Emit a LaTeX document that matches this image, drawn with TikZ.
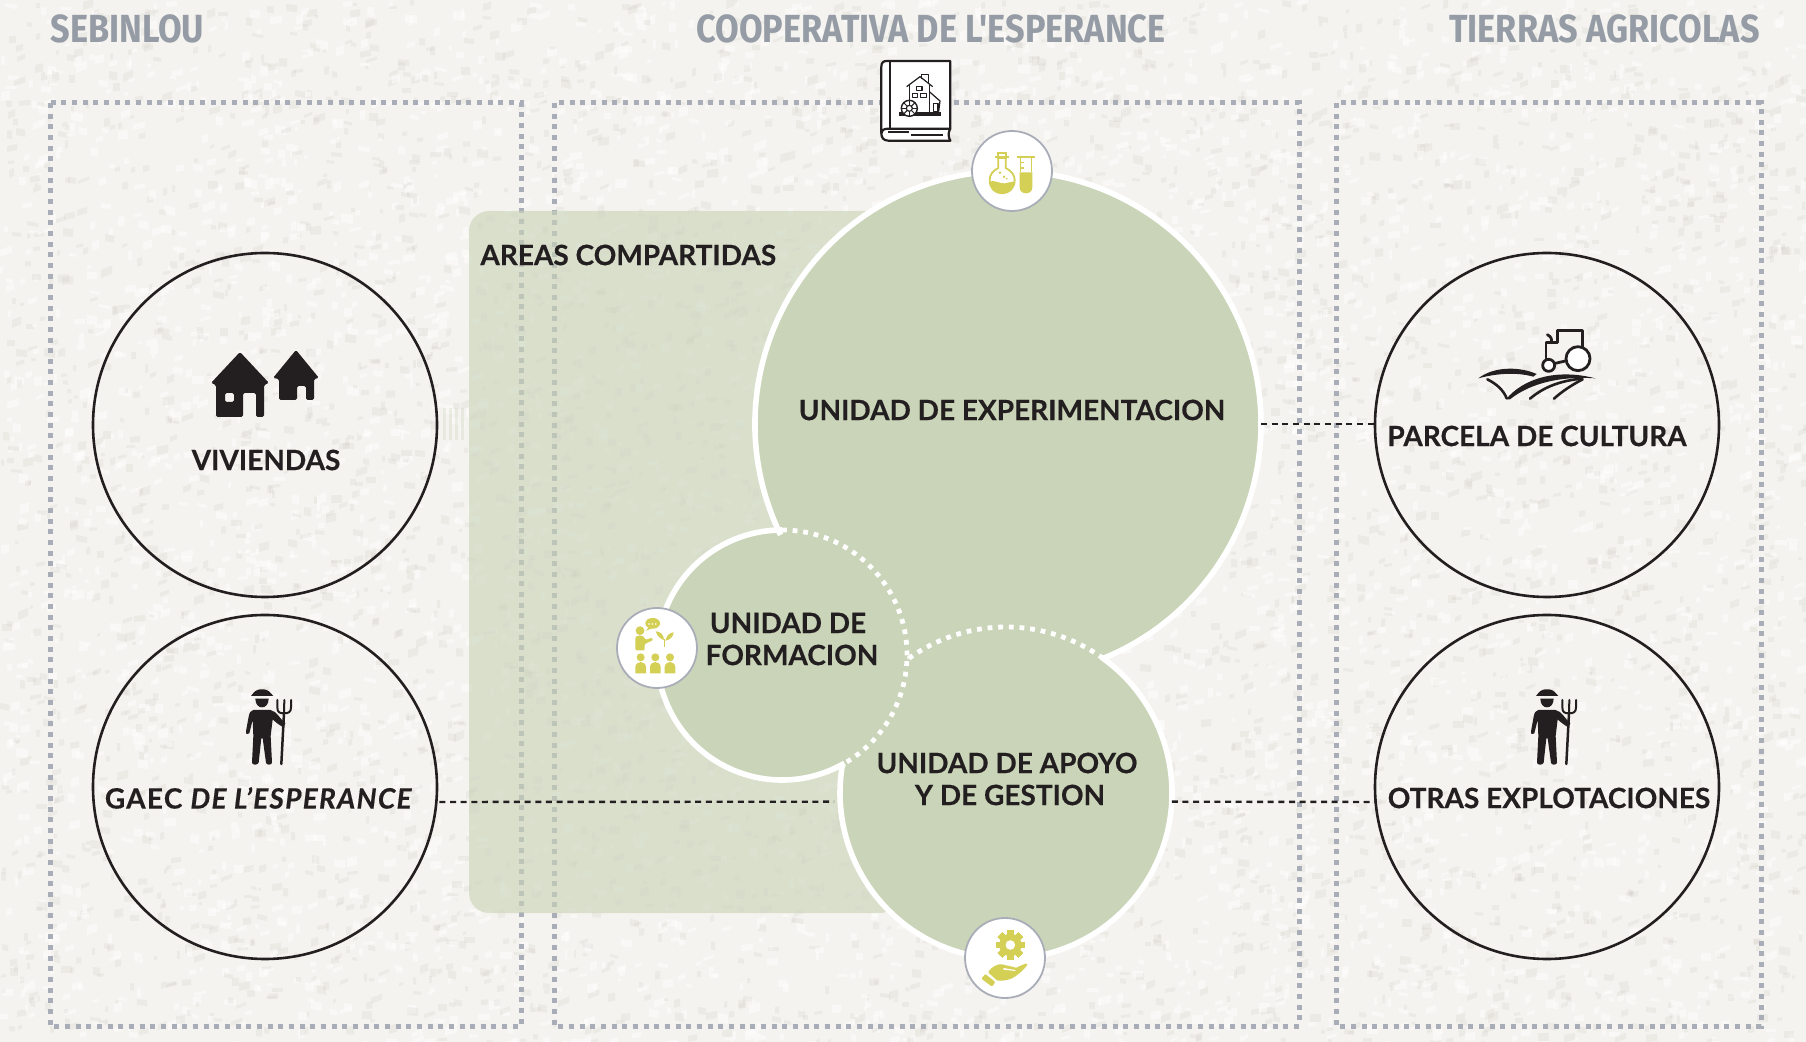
\documentclass[tikz,border=0pt]{standalone}
\usepackage{fontspec}
\setmainfont[BoldFeatures={FakeBold=0.35},BoldItalicFeatures={FakeBold=0.35}]{Lato}
\newfontfamily\hdfont[FakeStretch=0.875]{Fira Sans}
\usetikzlibrary{calc}
\definecolor{paper}{HTML}{F5F3EF}
\definecolor{speck}{HTML}{C9C6C0}
\definecolor{framecol}{HTML}{A9ADB8}
\definecolor{sage}{HTML}{CAD4B8}
\definecolor{ink}{HTML}{231F20}
\definecolor{lime}{HTML}{D4CF55}
\definecolor{headcol}{HTML}{959CA5}
\tikzset{
  x=.5pt,y=-.5pt,
  framebox/.style={draw=framecol,line width=2.5pt,dash pattern=on 2.5pt off 2.83pt},
  ringnode/.style={circle,draw=ink,line width=1.3pt,minimum size=172pt,inner sep=0,outer sep=0},
  blob/.style={circle,fill=sage,minimum size=#1,inner sep=0,outer sep=0},
  badge/.style={circle,fill=white,draw=framecol,line width=.9pt,minimum size=40pt,inner sep=0,outer sep=0},
  label/.style={font=\fontsize{14}{15}\selectfont\bfseries,text=ink,inner sep=0,align=center},
  head/.style={font=\hdfont\fontsize{19.6}{20}\selectfont\bfseries,text=headcol,inner sep=0},
  conn/.style={draw=ink,line width=1.2pt,dash pattern=on 3pt off 2.33pt},
  solidedge/.style={draw=white,line width=2.8pt},
  dotedge/.style={draw=white,line width=2.4pt,dash pattern=on 2.4pt off 2.93pt},
  zoomed/.style={shift={#1},x=.16667pt,y=-.16667pt},
}
\newcommand{\farmerfig}[1]{%
\begin{scope}[zoomed={#1},line cap=round,line join=round]
  \fill[ink] (93,78) -- (160,78) .. controls (150,68) and (148,58) .. (126,58) .. controls (104,58) and (102,68) .. (93,78) -- cycle;
  \fill[ink] (106,86) -- (146,86) .. controls (146,104) and (136,112) .. (126,112) .. controls (116,112) and (106,104) .. (106,86) -- cycle;
  \fill[ink] (100,120) -- (152,120) .. controls (170,124) and (180,146) .. (196,160) -- (190,172) .. controls (176,164) and (166,156) .. (158,148) -- (152,198) -- (156,278) .. controls (156,286) and (138,286) .. (138,278) -- (128,205) -- (124,205) -- (116,278) .. controls (114,286) and (96,286) .. (96,278) -- (100,198) -- (98,150) -- (88,190) .. controls (84,196) and (76,192) .. (78,184) -- (86,140) .. controls (88,128) and (92,122) .. (100,120) -- cycle;
  \draw[ink,line width=1.25pt] (184,282) -- (192,130);
  \draw[ink,line width=1pt] (172,90) -- (172,112) .. controls (172,128) and (180,130) .. (192,130) .. controls (206,130) and (213,126) .. (213,112) -- (213,90);
  \draw[ink,line width=1pt] (193,90) -- (192,130);
\end{scope}}
\begin{document}
\begin{tikzpicture}
\useasboundingbox (0,0) rectangle (1806,1042);
\fill[paper] (0,0) rectangle (1806,1042);
% paper grain
\pgfmathsetseed{42}
\begin{scope}
\clip (0,0) rectangle (1806,1042);
\foreach \i in {1,...,4000}{
  \pgfmathrandominteger{\gx}{0}{1806}
  \pgfmathrandominteger{\gy}{0}{1042}
  \pgfmathrandominteger{\gw}{3}{11}
  \pgfmathrandominteger{\gh}{3}{8}
  \pgfmathrandominteger{\gs}{-4}{2}
  \fill[speck,opacity=.2] (\gx,\gy) -- ++(\gw,.1*\gs*\gw) -- ++(0,\gh) -- ++(-\gw,-.1*\gs*\gw) -- cycle;
  \pgfmathrandominteger{\gx}{0}{1806}
  \pgfmathrandominteger{\gy}{0}{1042}
  \pgfmathrandominteger{\gw}{3}{12}
  \pgfmathrandominteger{\gh}{3}{9}
  \pgfmathrandominteger{\gs}{-4}{2}
  \fill[white,opacity=.45] (\gx,\gy) -- ++(\gw,.1*\gs*\gw) -- ++(0,\gh) -- ++(-\gw,-.1*\gs*\gw) -- cycle;
}
\end{scope}

% dotted territory frames
\draw[framebox] (50,103) rectangle (521,1026);
\draw[framebox] (554,103) rectangle (1299,1026);
\draw[framebox] (1336,103) rectangle (1761,1026);

% shared area
\fill[sage,opacity=.62,rounded corners=10pt] (469,211) rectangle (900,913);
\foreach \sx in {443,449,455,461}{\fill[sage,opacity=.3] (\sx,408) rectangle ++(3,32);}

% outer circles
\node[ringnode] (viviendas) at (265,425) {};
\node[ringnode] (gaec) at (265,787) {};
\node[ringnode] (parcela) at (1547,425) {};
\node[ringnode] (otras) at (1547,787) {};

% unit circles
\node[blob=253pt] (experim) at (1008,424) {};
\node[blob=166pt] (apoyo) at (1006,793) {};
\node[blob=125pt] (formacion) at (782,655) {};
\draw[solidedge] (experim.center) ++(206:126.5pt) arc[start angle=206,end angle=-68,radius=126.5pt];
\draw[solidedge] (apoyo.center) ++(54.8:83pt) arc[start angle=54.8,end angle=-190,radius=83pt];
\draw[solidedge] (formacion.center) ++(-60:62.5pt) arc[start angle=-60,end angle=-270,radius=62.5pt];
\draw[dotedge] (apoyo.center) ++(125.8:83pt) arc[start angle=125.8,end angle=54.8,radius=83pt];
\draw[dotedge] (formacion.center) ++(90:62.5pt) arc[start angle=90,end angle=-60,radius=62.5pt];

% connectors
\draw[conn,shorten >=3pt,shorten <=1.5pt] (gaec.-5) -- (apoyo.183.1);
\draw[conn] (apoyo.-3.1) -- (otras.185);
\draw[conn] (experim.east) -- (parcela.west|-experim.east);

% headings
\node[head,anchor=west] (h1) at (50,28.5) {SEBINLOU};
\node[head] (h2) at (931,28.5) {COOPERATIVA DE L'ESPERANCE};
\node[head,anchor=east] (h3) at (1760,28.5) {TIERRAS AGRICOLAS};

% labels
\node[label] (t1) at (266,460) {VIVIENDAS};
\node[label] (t2) at (259,798) {\addfontfeature{LetterSpace=4.5}GAEC \textit{DE L’ESPERANCE}};
\node[label] (t3) at (1537,436) {PARCELA DE CULTURA};
\node[label] (t4) at (1549,798) {OTRAS EXPLOTACIONES};
\node[label,anchor=west] (t5) at (480,255) {AREAS COMPARTIDAS};
\node[label] (t6) at (1012,410) {UNIDAD DE EXPERIMENTACION};
\node[label] (t7a) at (788,623) {UNIDAD DE};
\node[label] (t7b) at (792,655) {FORMACION};
\node[label] (t8a) at (1007,763) {UNIDAD DE APOYO};
\node[label] (t8b) at (1010,795) {Y DE GESTION};

% houses icon
\begin{scope}[rounded corners=.8pt]
\fill[ink,even odd rule] (240,352) -- (269,383) -- (264,385) -- (264,417) -- (256,417) -- (256,393) -- (243,393) -- (243,417) -- (216,417) -- (216,385) -- (211,383) -- cycle
  (225,393) rectangle (234,402);
\fill[ink] (296,350) -- (319,378) -- (314,379) -- (314,400) -- (306,400) -- (306,386) -- (297,386) -- (297,400) -- (279,400) -- (279,379) -- (273,378) -- cycle;
\end{scope}

% farmers
\farmerfig{(220,670)}
\farmerfig{(1505,670)}

% tractor and fields
\begin{scope}[zoomed={(1450,310)},line cap=round,line join=round]
  \draw[ink,line width=1.4pt] (292,74) .. controls (304,80) and (306,88) .. (304,98);
  \draw[ink,line width=1.4pt] (288,150) -- (288,98) -- (322,98) -- (322,62) -- (398,62) -- (398,112);
  \draw[ink,line width=1.4pt] (316,160) -- (350,152);
  \draw[ink,line width=1.4pt,fill=white] (384,146) circle[radius=6pt];
  \draw[ink,line width=1.4pt,fill=white] (296,166) circle[radius=3pt];
  \fill[ink] (85,205) .. controls (130,170) and (205,168) .. (260,192) -- (250,200) .. controls (200,186) and (140,190) .. (85,205) -- cycle;
  \draw[ink,line width=1.3pt] (112,208) .. controls (140,222) and (160,240) .. (170,265);
  \fill[ink] (168,268) .. controls (220,205) and (320,175) .. (436,205) .. controls (330,198) and (240,220) .. (180,268) -- cycle;
  \draw[ink,line width=1.3pt] (240,266) .. controls (280,232) and (330,212) .. (395,206);
  \draw[ink,line width=1.3pt] (312,266) .. controls (335,245) and (365,225) .. (398,208);
\end{scope}

% book icon
\begin{scope}[zoomed={(840,40)},line join=round,line cap=butt]
  \fill[white] (124,80) .. controls (124,68) and (130,63) .. (140,63) -- (331,63) -- (331,266) -- (320,280) -- (331,302) -- (145,302) .. controls (130,302) and (124,292) .. (124,280) -- cycle;
  \draw[ink,line width=1.1pt] (331,266) -- (331,63) -- (140,63) .. controls (130,63) and (124,68) .. (124,80) -- (124,280) .. controls (124,292) and (130,302) .. (145,302) -- (331,302) .. controls (324,290) and (324,278) .. (331,266) -- (145,266) .. controls (130,266) and (124,272) .. (124,280);
  \draw[ink,line width=1.1pt] (150,63) -- (150,266);
  \draw[ink,line width=1.1pt] (145,277) -- (207,277);
  \draw[ink,line width=1.1pt] (213,286) -- (308,286);
  % mill
  \draw[ink,line width=.6pt] (200,140) -- (240,110) -- (278,140);
  \draw[ink,line width=.6pt] (245,116) -- (245,103) -- (265,103) -- (265,128);
  \draw[ink,line width=.6pt] (208,134) -- (208,185);
  \draw[ink,line width=.6pt] (268,135) -- (268,215);
  \draw[ink,line width=.6pt] (268,155) -- (300,183) -- (296,215);
  \draw[ink,line width=.6pt] (230,140) rectangle (246,151);
  \draw[ink,line width=.6pt] (218,160) rectangle (233,172);
  \draw[ink,line width=.6pt] (241,160) rectangle (259,172);
  \draw[ink,line width=.6pt] (280,190) rectangle (294,215);
  \fill[ink] (178,217) rectangle (302,227);
  \draw[ink,line width=.7pt,fill=white] (208,205) circle[radius=4pt];
  \draw[ink,line width=.6pt,fill=white] (208,205) circle[radius=1.5pt];
  \foreach \a in {0,45,...,315}{\draw[ink,line width=.5pt] (208,205) ++(\a:1.5pt) -- ++(\a:2.5pt);}
\end{scope}

% flask badge
\node[badge] (flaskbadge) at (1012,171) {};
\begin{scope}[zoomed={(840,40)},line cap=butt]
  \draw[lime,line width=.9pt] (475,355) rectangle (497,338);
  \draw[lime,line width=.9pt] (466,352) -- (507,352);
  \draw[lime,line width=.9pt] (475,355) -- (475,384) .. controls (458,392) and (449,405) .. (449,420) .. controls (449,445) and (465,460) .. (486,460) .. controls (507,460) and (524,445) .. (524,420) .. controls (524,405) and (514,392) .. (497,384) -- (497,355);
  \fill[lime] (449,424) .. controls (465,420) and (480,432) .. (495,430) .. controls (505,429) and (515,424) .. (524,424) .. controls (522,445) and (507,460) .. (486,460) .. controls (465,460) and (450,445) .. (449,424) -- cycle;
  \fill[lime] (480,398) circle[radius=.7pt] (492,410) circle[radius=.7pt] (500,416) circle[radius=.5pt];
  \draw[lime,line width=.9pt] (532,351) -- (584,351);
  \draw[lime,line width=.8pt] (541,351) -- (541,396) (575,351) -- (575,396);
  \draw[lime,line width=.6pt] (541,367) -- (552,367) (541,384) -- (552,384);
  \fill[lime] (539,397) -- (577,397) -- (577,442) .. controls (577,466) and (539,466) .. (539,442) -- cycle;
\end{scope}

% formation badge
\node[badge] (formbadge) at (657,648) {};
\begin{scope}[zoomed={(600,590)}]
  \fill[lime] (158,100) ellipse[x radius=3.7pt,y radius=2.7pt];
  \fill[lime] (146,112) -- (138,122) -- (156,115) -- cycle;
  \fill[white] (147,102) circle[radius=.45pt] (157,102) circle[radius=.45pt] (167,102) circle[radius=.45pt];
  \fill[lime] (120,122) circle[radius=2.2pt];
  \fill[lime,rounded corners=.6pt] (106,181) -- (106,148) .. controls (106,140) and (112,137) .. (120,137) .. controls (128,137) and (134,142) .. (136,150) -- (156,143) -- (160,150) -- (134,162) -- (134,181) -- cycle;
  \fill[lime] (192,150) .. controls (182,148) and (172,138) .. (167,124) .. controls (180,124) and (192,134) .. (192,150) -- cycle;
  \fill[lime] (196,152) .. controls (200,135) and (210,128) .. (221,127) .. controls (220,140) and (210,150) .. (196,152) -- cycle;
  \draw[lime,line width=.5pt] (192,148) -- (192,172);
  \foreach \lx in {122,166,210}{
    \fill[lime] (\lx,202) circle[radius=2pt];
    \fill[lime] (\lx-16,250) -- (\lx-16,232) .. controls (\lx-16,222) and (\lx-8,216) .. (\lx,216) .. controls (\lx+8,216) and (\lx+16,222) .. (\lx+16,232) -- (\lx+16,250) -- cycle;
  }
\end{scope}

% gear and hand badge
\node[badge] (gearbadge) at (1005,958) {};
\begin{scope}[zoomed={(940,900)}]
  \foreach \a in {0,45,...,315}{
    \fill[lime,rotate around={\a:(211,135)}] (201,91) rectangle (221,179);
  }
  \fill[lime] (211,135) circle[radius=5.6pt];
  \fill[white] (211,135) circle[radius=2.4pt];
  \fill[lime,rounded corners=.5pt] (124,236) -- (136,222) -- (166,246) -- (156,260) -- cycle;
  \fill[lime,rounded corners=.5pt] (144,217) .. controls (155,200) and (175,190) .. (190,194) .. controls (205,198) and (220,200) .. (227,204) .. controls (240,198) and (252,192) .. (262,190) .. controls (262,198) and (245,215) .. (230,226) .. controls (215,238) and (195,243) .. (172,242) -- cycle;
  \fill[white] (190,204) -- (226,210) -- (226,213) -- (190,209) -- cycle;
\end{scope}
\end{tikzpicture}
\end{document}
